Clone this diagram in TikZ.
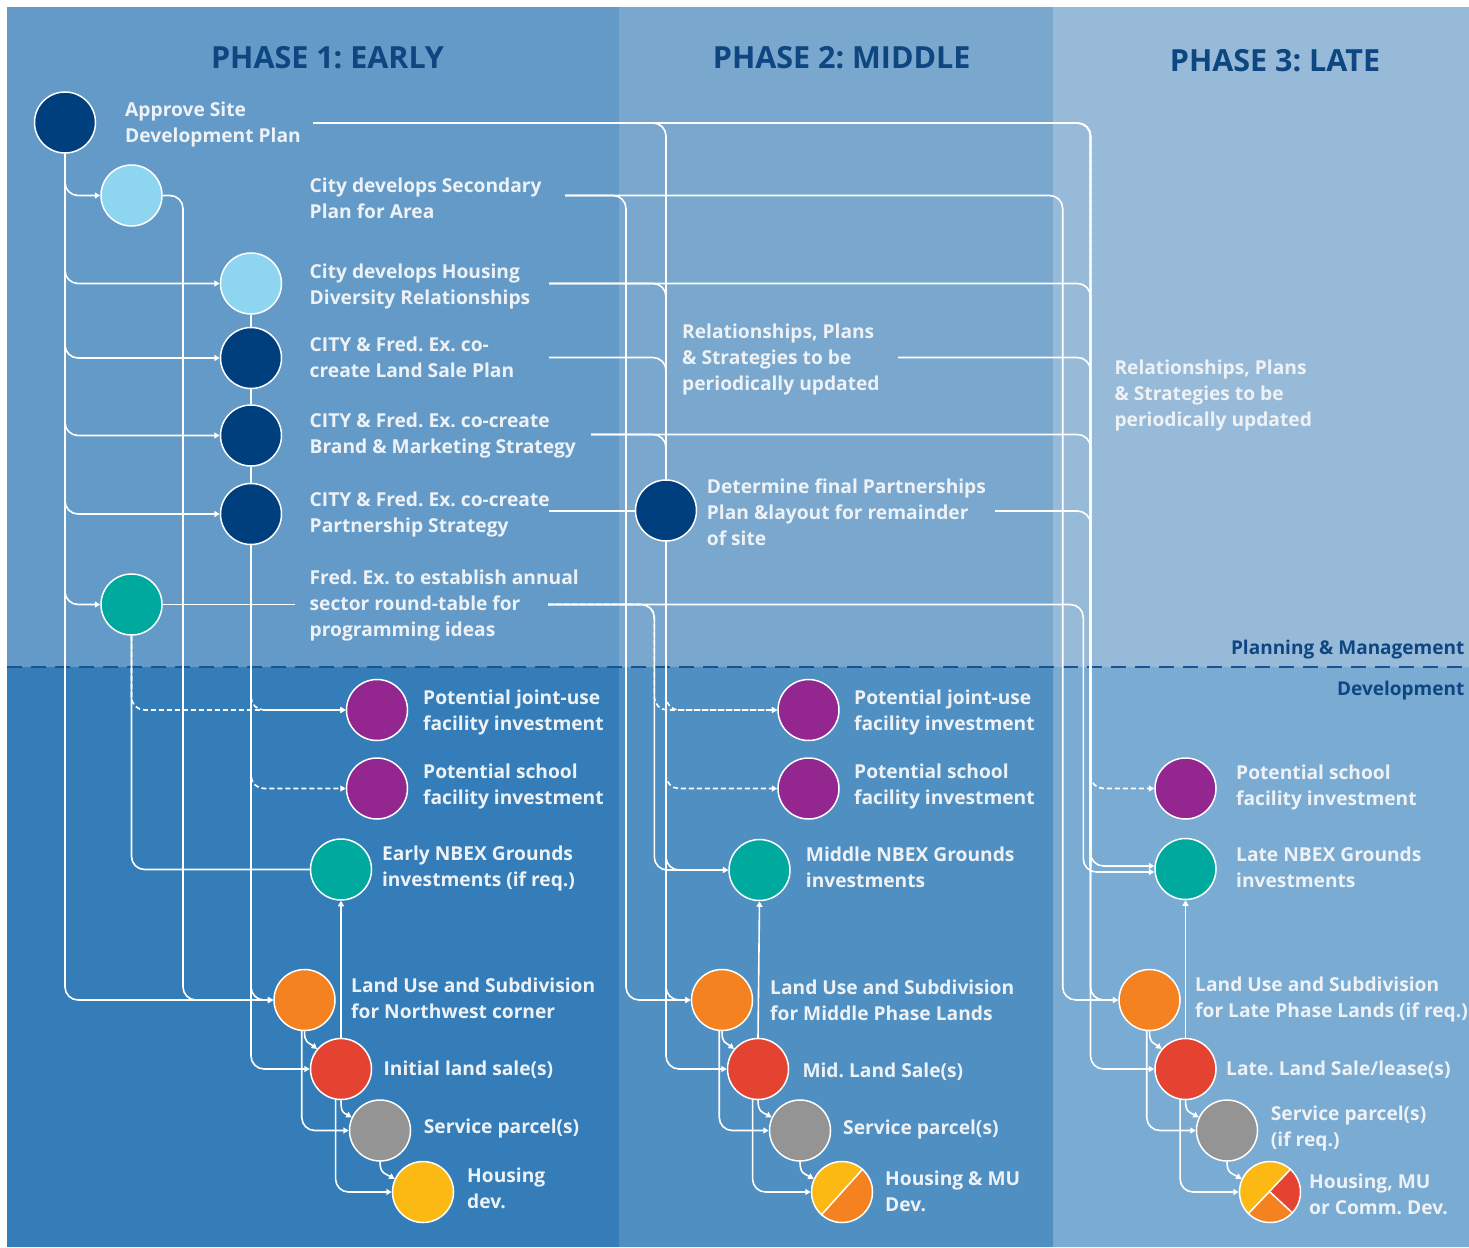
\documentclass[tikz,border=0pt]{standalone}
\usepackage{fontspec}
\setmainfont{Open Sans}
\usetikzlibrary{arrows.meta,calc}
\definecolor{pa}{HTML}{639AC7}
\definecolor{pb}{HTML}{347DB8}
\definecolor{qa}{HTML}{79A7CD}
\definecolor{qb}{HTML}{508FC2}
\definecolor{ra}{HTML}{97BAD8}
\definecolor{rb}{HTML}{7AABD3}
\definecolor{cnavy}{HTML}{003F7D}
\definecolor{titlec}{HTML}{0D4680}
\definecolor{clblue}{HTML}{8ED6F0}
\definecolor{cteal}{HTML}{00A99D}
\definecolor{cpurp}{HTML}{93278F}
\definecolor{corange}{HTML}{F58220}
\definecolor{cred}{HTML}{E34330}
\definecolor{cgray}{HTML}{949494}
\definecolor{cyel}{HTML}{FDB913}
\definecolor{txtc}{HTML}{EEF2F6}
\definecolor{sepc}{HTML}{1A5391}
\pgfdeclarelayer{back}
\pgfdeclarelayer{mid}
\pgfsetlayers{back,mid,main}
\frenchspacing
\newcommand\mytext[4]{\node[txt] (#1) at (#2,#3-14.8) {#4};}
\newcommand\mytextone[4]{\node[txt] (#1) at (#2,#3-18.2) {#4};}
\begin{document}
\frenchspacing
\begin{tikzpicture}[x=1pt,y=-1pt,
  circ/.style={circle,draw=white,line width=1.5pt,minimum size=61pt,inner sep=0pt},
  conn/.style={draw=white,line width=1.6pt,rounded corners=13pt},
  arr/.style={-{Triangle[length=5.5pt,width=6pt]}},
  dsh/.style={dash pattern=on 5pt off 3pt},
  txt/.style={font=\fontsize{19.2}{26}\selectfont\bfseries\frenchspacing,text=txtc,align=left,anchor=north west,inner sep=0pt,execute at begin node=\strut},
  ttl/.style={font=\fontsize{30.5}{34}\selectfont\bfseries\frenchspacing,text=titlec,anchor=base,inner sep=0pt},
  lbl/.style={font=\fontsize{19}{24}\selectfont\bfseries,text=titlec,anchor=base east,inner sep=0pt}]
\useasboundingbox (0,0) rectangle (1469,1247);
\begin{pgfonlayer}{back}
\fill[white] (0,0) rectangle (1469,1247);
\fill[pa] (7,7) rectangle (619,667);
\fill[pb] (7,667) rectangle (619,1247);
\fill[qa] (619,7) rectangle (1053,667);
\fill[qb] (619,667) rectangle (1053,1247);
\fill[ra] (1053,7) rectangle (1469,667);
\fill[rb] (1053,667) rectangle (1469,1247);
\draw[sepc,line width=2pt,dash pattern=on 15pt off 9pt] (7,667) -- (1469,667);
\end{pgfonlayer}
% titles
\node[ttl] (t1) at (327.5,68.3) {PHASE 1: EARLY};
\node[ttl] (t2) at (841.7,68.3) {PHASE 2: MIDDLE};
\node[ttl] (t3) at (1275,71.4) {PHASE 3: LATE};
\node[lbl] (pm) at (1464.5,654) {Planning \& Management};
\node[lbl] (dv) at (1464.5,695.5) {Development};
% phase 1 circles
\node[circ,fill=cnavy] (A) at (65,122.5) {};
\node[circ,fill=clblue] (B) at (131.5,195.5) {};
\node[circ,fill=clblue] (C) at (251,283.5) {};
\node[circ,fill=cnavy] (D) at (251,358) {};
\node[circ,fill=cnavy] (E) at (251,435.5) {};
\node[circ,fill=cnavy] (F) at (251,514) {};
\node[circ,fill=cteal] (G) at (131.5,604.5) {};
\node[circ,fill=cpurp] (Pa1) at (377,710) {};
\node[circ,fill=cpurp] (Pb1) at (377,788.5) {};
\node[circ,fill=cteal] (T1) at (341,869.5) {};
\node[circ,fill=corange] (O1) at (304.5,1000) {};
\node[circ,fill=cred] (R1) at (341,1069) {};
\node[circ,fill=cgray] (S1) at (380,1130.5) {};
\node[circ,fill=cyel] (Y1) at (423,1192) {};
% phase 2 circles
\node[circ,fill=cnavy] (H) at (666,510.5) {};
\node[circ,fill=cpurp] (Pa2) at (808.5,710) {};
\node[circ,fill=cpurp] (Pb2) at (808.5,788.5) {};
\node[circ,fill=cteal] (T2) at (759.5,870) {};
\node[circ,fill=corange] (O2) at (722,1000) {};
\node[circ,fill=cred] (R2) at (758,1069) {};
\node[circ,fill=cgray] (S2) at (800,1130.5) {};
\node[circ,draw=none] (Y2) at (842,1192) {};
% phase 3 circles
\node[circ,fill=cpurp] (P3) at (1185.5,788.5) {};
\node[circ,fill=cteal] (T3) at (1185.5,869) {};
\node[circ,fill=corange] (O3) at (1149.5,1000) {};
\node[circ,fill=cred] (R3) at (1185.5,1069) {};
\node[circ,fill=cgray] (S3) at (1227,1130.5) {};
\node[circ,draw=none] (Y3) at (1270,1192) {};
% split circles
\begin{scope}
\clip (Y2.center) circle[radius=30.5];
\fill[corange] (Y2.center) circle[radius=32];
\fill[cyel] ($(Y2.center)!2!(Y2.48)$) -- ($(Y2.center)!2!(Y2.138)$) -- ($(Y2.center)!2!(Y2.228)$) -- cycle;
\end{scope}
\draw[white,line width=1.5pt] (Y2.48) -- (Y2.228);
\draw[white,line width=1.5pt] (Y2.center) circle[radius=30.5];
\begin{scope}
\clip (Y3.center) circle[radius=30.5];
\fill[cyel] (Y3.center) -- ($(Y3.center)!2!(Y3.48)$) -- ($(Y3.center)!2!(Y3.108)$) -- ($(Y3.center)!2!(Y3.168)$) -- ($(Y3.center)!2!(Y3.225)$) -- cycle;
\fill[corange] (Y3.center) -- ($(Y3.center)!2!(Y3.225)$) -- ($(Y3.center)!2!(Y3.271)$) -- ($(Y3.center)!2!(Y3.317)$) -- cycle;
\fill[cred] (Y3.center) -- ($(Y3.center)!2!(Y3.317)$) -- ($(Y3.center)!2!(Y3.2)$) -- ($(Y3.center)!2!(Y3.48)$) -- cycle;
\end{scope}
\draw[white,line width=1.5pt] (Y3.48) -- (Y3.225);
\draw[white,line width=1.5pt] (Y3.center) -- (Y3.317);
\draw[white,line width=1.5pt] (Y3.center) circle[radius=30.5];
% free ends
\coordinate (a1) at (313,123);
\coordinate (b1) at (565,195.5);
\coordinate (c1) at (549,283.5);
\coordinate (d1) at (549,357.5);
\coordinate (e1) at (591,434.5);
\coordinate (f1) at (549,511);
\coordinate (g0) at (295,604.5);
\coordinate (g1) at (548,604.5);
\coordinate (r1) at (898,357.5);
\coordinate (h1) at (995,511);
\coordinate (kb1) at (183,0);
\coordinate (kb2) at (626,0);
\coordinate (kg2) at (654.3,0);
\coordinate (kb3) at (1062.7,0);
\coordinate (kg3) at (1083.3,0);
\coordinate (k3) at (1090.5,0);
\coordinate (t3a) at ([yshift=3pt]T3.west);
\coordinate (t3b) at ([yshift=-3pt]T3.west);
\begin{pgfonlayer}{mid}
% phase 1 planning
\foreach \n in {B,C,D,E,F,G,O1} \draw[conn,arr] (A.south) |- (\n.west);
\draw[conn,arr] (B.east) -| (kb1|-O1.west) -- (O1.west);
\draw[conn] (C.south) -- (D.north);
\draw[conn] (D.south) -- (E.north);
\draw[conn] (E.south) -- (F.north);
\draw[conn,arr,dsh] (F.south) |- (Pa1.west);
\draw[conn,arr,dsh] (F.south) |- (Pb1.west);
\draw[conn,arr,dsh] (G.south) |- (Pa1.west);
\draw[conn,arr] (F.south) |- (O1.west);
\draw[conn,arr] (F.south) |- (R1.west);
\draw[conn] (G.south) |- (T1.west);
\draw[conn] (G.east) -- (g0);
% phase 1 development
\draw[conn,arr] (O1.south) .. controls +(0,12) and +(-9,-7) .. (R1.140);
\draw[conn,arr] (O1.-95) |- (S1.west);
\draw[conn,arr] (R1.south) .. controls +(0,12) and +(-9,-5) .. (S1.155);
\draw[conn,arr] (R1.-100) |- (Y1.west);
\draw[conn,arr] (S1.south) .. controls +(0,12) and +(-9,-5) .. (Y1.155);
\draw[conn,arr] (R1.north) -- (T1.south);
% phase 2 planning
\draw[conn] (a1) -| (H.north);
\draw[conn] (c1) -| (H.north);
\draw[conn] (d1) -| (H.north);
\draw[conn] (e1) -| (H.north);
\draw[conn] (f1) -- (f1-|H.west);
\draw[conn,arr] (b1) -| (kb2|-O2.west) -- (O2.west);
\draw[conn,arr,dsh] (H.south) |- (Pa2.west);
\draw[conn,arr,dsh] (H.south) |- (Pb2.west);
\draw[conn,arr,dsh] (g1) -| (kg2|-Pa2.west) -- (Pa2.west);
\draw[conn,arr] (g1) -| (kg2|-T2.west) -- (T2.west);
\draw[conn,arr] (H.south) |- (T2.west);
\draw[conn,arr] (H.south) |- (O2.west);
\draw[conn,arr] (H.south) |- (R2.west);
% phase 2 development
\draw[conn,arr] (O2.south) .. controls +(0,12) and +(-9,-7) .. (R2.140);
\draw[conn,arr] (O2.-95) |- (S2.west);
\draw[conn,arr] (R2.south) .. controls +(0,12) and +(-9,-5) .. (S2.155);
\draw[conn,arr] (R2.-100) |- (Y2.west);
\draw[conn,arr] (S2.south) .. controls +(0,12) and +(-9,-5) .. (Y2.155);
\draw[conn,arr] (R2.north) -- (T2.south);
% phase 3
\draw[conn,arr] (b1) -| (kb3|-O3.west) -- (O3.west);
\draw[conn,arr,dsh] (a1) -| (k3|-P3.west) -- (P3.west);
\draw[conn,arr] (a1) -| (k3|-t3a) -- (t3a);
\draw[conn,arr] (a1) -| (k3|-O3.west) -- (O3.west);
\draw[conn,arr] (a1) -| (k3|-R3.west) -- (R3.west);
\draw[conn] (c1) -| (k3|-t3a);
\draw[conn] (e1) -| (k3|-t3a);
\draw[conn] (r1) -| (k3|-t3a);
\draw[conn] (h1) -| (k3|-t3a);
\draw[conn,arr] (g1) -| (kg3|-t3b) -- (t3b);
\draw[conn,arr] (O3.south) .. controls +(0,12) and +(-9,-7) .. (R3.140);
\draw[conn,arr] (O3.-95) |- (S3.west);
\draw[conn,arr] (R3.south) .. controls +(0,12) and +(-9,-5) .. (S3.155);
\draw[conn,arr] (R3.-100) |- (Y3.west);
\draw[conn,arr] (S3.south) .. controls +(0,12) and +(-9,-5) .. (Y3.155);
\draw[conn,arr] (R3.north) -- (T3.south);
\end{pgfonlayer}
% texts
\mytext{tA}{125}{116.5}{Approve Site\\Development Plan}
\mytext{tB}{309.5}{193}{City develops Secondary\\Plan for Area}
\mytext{tC}{309.5}{278.3}{City develops Housing\\Diversity Relationships}
\mytext{tD}{309.5}{351.7}{CITY \& Fred. Ex. co-\\create Land Sale Plan}
\mytext{tE}{309.5}{427.7}{CITY \& Fred. Ex. co-create\\Brand \& Marketing Strategy}
\mytext{tF}{309.5}{506.7}{CITY \& Fred. Ex. co-create\\Partnership Strategy}
\mytext{tG}{309.5}{585}{Fred. Ex. to establish annual\\sector round-table for\\programming ideas}
\mytext{tR2}{682}{338.3}{Relationships, Plans\\\& Strategies to be\\periodically updated}
\mytext{tH}{706.7}{493.3}{Determine final Partnerships\\Plan \&layout for remainder\\of site}
\mytext{tR3}{1114.3}{375}{Relationships, Plans\\\& Strategies to be\\periodically updated}
\mytext{tPa1}{423}{704.3}{Potential joint-use\\facility investment}
\mytext{tPb1}{423}{778.3}{Potential school\\facility investment}
\mytext{tT1}{381.8}{861}{Early NBEX Grounds\\investments (if req.)}
\mytext{tO1}{351}{992.3}{Land Use and Subdivision\\for Northwest corner}
\mytextone{tR1}{383.4}{1075}{Initial land sale(s)}
\mytextone{tS1}{423.7}{1133.3}{Service parcel(s)}
\mytext{tY1}{467}{1182.3}{Housing\\dev.}
\mytext{tPa2}{854}{704.3}{Potential joint-use\\facility investment}
\mytext{tPb2}{854}{778.3}{Potential school\\facility investment}
\mytext{tT2}{805.7}{861.7}{Middle NBEX Grounds\\investments}
\mytext{tO2}{770}{994.3}{Land Use and Subdivision\\for Middle Phase Lands}
\mytextone{tR2s}{802.3}{1077.7}{Mid. Land Sale(s)}
\mytextone{tS2}{843}{1134}{Service parcel(s)}
\mytext{tY2}{885}{1185}{Housing \& MU\\Dev.}
\mytext{tP3}{1236}{779.3}{Potential school\\facility investment}
\mytext{tT3}{1236}{861.7}{Late NBEX Grounds\\investments}
\mytext{tO3}{1195}{991}{Land Use and Subdivision\\for Late Phase Lands (if req.)}
\mytextone{tR3s}{1226}{1075}{Late. Land Sale/lease(s)}
\mytext{tS3}{1270.7}{1120}{Service parcel(s)\\(if req.)}
\mytext{tY3}{1309}{1188.3}{Housing, MU\\or Comm. Dev.}
\end{tikzpicture}
\end{document}
